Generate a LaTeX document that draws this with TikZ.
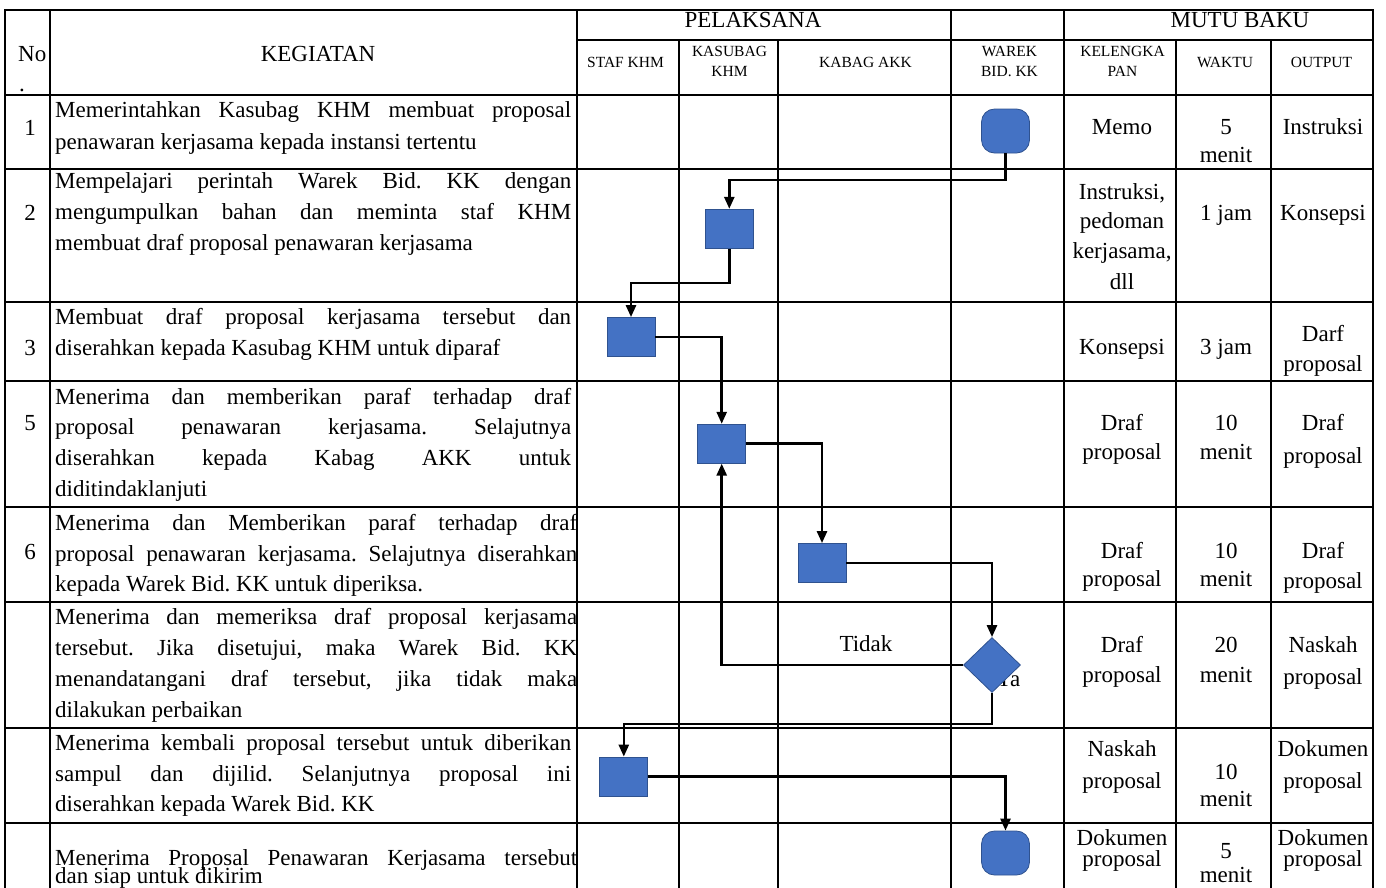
\documentclass[tikz,border=0pt]{standalone}
\usepackage{fontspec}
\setmainfont{Liberation Serif}
\usetikzlibrary{arrows.meta,shapes.geometric}
\definecolor{shapefill}{HTML}{4472C4}
\definecolor{shapeline}{HTML}{2F528F}
\newcommand\kjline[4]{\node[kt] (#1) at (55,#2) {\makebox[#3pt][s]{#4}};}
\newcommand\kfline[3]{\node[kt] (#1) at (55,#2) {#3};}
\newcommand\mycell[4]{\node[ct] (#1) at (#2,#3) {#4};}
\newcommand\myhead[4]{\node[ht] (#1) at (#2,#3) {#4};}
\frenchspacing
\begin{document}
\frenchspacing
\begin{tikzpicture}[x=1pt,y=-1pt,
  tline/.style={line width=2.4pt, line cap=rect},
  conn/.style={line width=2.6pt, -{Triangle[length=12pt,width=10pt]}},
  kt/.style={anchor=base west, inner sep=0pt, font=\fontsize{23}{31}\selectfont\frenchspacing},
  ct/.style={anchor=base, inner sep=0pt, font=\fontsize{23}{31}\selectfont\frenchspacing},
  ht/.style={anchor=base, inner sep=0pt, font=\fontsize{15.5}{20}\selectfont\frenchspacing},
  proc/.style={draw=shapeline, fill=shapefill, line width=0.8pt, minimum width=48pt, minimum height=39pt, inner sep=0pt},
  term/.style={draw=shapeline, fill=shapefill, line width=0.8pt, minimum width=48pt, minimum height=44pt, inner sep=0pt, rounded corners=13pt},
  dec/.style={diamond, draw=shapeline, fill=shapefill, line width=0.8pt, minimum width=57pt, minimum height=55pt, inner sep=0pt}]
\useasboundingbox (0,0) rectangle (1386,887);
% table grid
\draw[tline] (5,10) -- (1373,10);
\draw[tline] (577,40) -- (1373,40);
\foreach \yy in {95,169,302,381,507,602,728,823} {\draw[tline] (5,\yy) -- (1373,\yy);}
\foreach \xx in {5,50,577,951,1064,1373} {\draw[tline] (\xx,10) -- (\xx,887);}
\foreach \xx in {679,778,1176,1271} {\draw[tline] (\xx,40) -- (\xx,887);}
% header
\node[kt] (hno) at (18,61) {No};
\node[kt] (hdot) at (19,91) {.};
\mycell{hkeg}{318}{61}{KEGIATAN}
\mycell{hpel}{753}{27}{PELAKSANA}
\mycell{hmutu}{1240}{27}{MUTU BAKU}
\myhead{hstaf}{625.5}{67}{STAF KHM}
\myhead{hkas1}{729.5}{56}{KASUBAG}
\myhead{hkas2}{729.5}{76}{KHM}
\myhead{hkab}{865.5}{67}{KABAG AKK}
\myhead{hwar1}{1009.5}{56}{WAREK}
\myhead{hwar2}{1009.5}{76}{BID. KK}
\myhead{hkel1}{1122.5}{56}{KELENGKA}
\myhead{hkel2}{1122.5}{76}{PAN}
\myhead{hwak}{1225}{67}{WAKTU}
\myhead{hout}{1321.5}{67}{OUTPUT}
% numbers
\mycell{n1}{30}{135}{1}
\mycell{n2}{30}{220}{2}
\mycell{n3}{30}{355}{3}
\mycell{n5}{30}{430}{5}
\mycell{n6}{30}{559}{6}
% kegiatan
\kjline{k1a}{117}{516}{Memerintahkan Kasubag KHM membuat proposal}
\kfline{k1b}{149}{penawaran kerjasama kepada instansi tertentu}
\kjline{k2a}{188}{516}{Mempelajari perintah Warek Bid. KK dengan}
\kjline{k2b}{219}{516}{mengumpulkan bahan dan meminta staf KHM}
\kfline{k2c}{250}{membuat draf proposal penawaran kerjasama}
\kjline{k3a}{324}{516}{Membuat draf proposal kerjasama tersebut dan}
\kfline{k3b}{355}{diserahkan kepada Kasubag KHM untuk diparaf}
\kjline{k5a}{404}{516}{Menerima dan memberikan paraf terhadap draf}
\kjline{k5b}{434}{516}{proposal penawaran kerjasama. Selajutnya}
\kjline{k5c}{465}{516}{diserahkan kepada Kabag AKK untuk}
\kfline{k5d}{496}{diditindaklanjuti}
\kjline{k6a}{530}{522}{Menerima dan Memberikan paraf terhadap draf}
\kjline{k6b}{561}{522}{proposal penawaran kerjasama. Selajutnya diserahkan}
\kfline{k6c}{591}{kepada Warek Bid. KK untuk diperiksa.}
\kjline{k7a}{624}{522}{Menerima dan memeriksa draf proposal kerjasama}
\kjline{k7b}{655}{522}{tersebut. Jika disetujui, maka Warek Bid. KK}
\kjline{k7c}{686}{522}{menandatangani draf tersebut, jika tidak maka}
\kfline{k7d}{717}{dilakukan perbaikan}
\kjline{k8a}{750}{516}{Menerima kembali proposal tersebut untuk diberikan}
\kjline{k8b}{781}{516}{sampul dan dijilid. Selanjutnya proposal ini}
\kfline{k8c}{811}{diserahkan kepada Warek Bid. KK}
\kjline{k9a}{865}{522}{Menerima Proposal Penawaran Kerjasama tersebut}
\kfline{k9b}{883}{dan siap untuk dikirim}
% mutu baku columns
\mycell{c1a}{1122}{134}{Memo}
\mycell{c1b}{1226}{134}{5}
\mycell{c1c}{1226}{162}{menit}
\mycell{c1d}{1323}{134}{Instruksi}
\mycell{c2a}{1122}{199}{Instruksi,}
\mycell{c2b}{1122}{228}{pedoman}
\mycell{c2c}{1122}{258}{kerjasama,}
\mycell{c2d}{1122}{289}{dll}
\mycell{c2e}{1226}{220}{1 jam}
\mycell{c2f}{1323}{220}{Konsepsi}
\mycell{c3a}{1122}{354}{Konsepsi}
\mycell{c3b}{1226}{354}{3 jam}
\mycell{c3c}{1323}{341}{Darf}
\mycell{c3d}{1323}{371}{proposal}
\mycell{c5a}{1122}{430}{Draf}
\mycell{c5b}{1122}{459}{proposal}
\mycell{c5c}{1226}{430}{10}
\mycell{c5d}{1226}{459}{menit}
\mycell{c5e}{1323}{430}{Draf}
\mycell{c5f}{1323}{463}{proposal}
\mycell{c6a}{1122}{558}{Draf}
\mycell{c6b}{1122}{586}{proposal}
\mycell{c6c}{1226}{558}{10}
\mycell{c6d}{1226}{586}{menit}
\mycell{c6e}{1323}{558}{Draf}
\mycell{c6f}{1323}{588}{proposal}
\mycell{c7a}{1122}{652}{Draf}
\mycell{c7b}{1122}{682}{proposal}
\mycell{c7c}{1226}{652}{20}
\mycell{c7d}{1226}{682}{menit}
\mycell{c7e}{1323}{652}{Naskah}
\mycell{c7f}{1323}{684}{proposal}
\mycell{c8a}{1122}{756}{Naskah}
\mycell{c8b}{1122}{788}{proposal}
\mycell{c8c}{1226}{779}{10}
\mycell{c8d}{1226}{806}{menit}
\mycell{c8e}{1323}{756}{Dokumen}
\mycell{c8f}{1323}{788}{proposal}
\mycell{c9a}{1122}{845}{Dokumen}
\mycell{c9b}{1122}{866}{proposal}
\mycell{c9c}{1226}{858}{5}
\mycell{c9d}{1226}{882}{menit}
\mycell{c9e}{1323}{845}{Dokumen}
\mycell{c9f}{1323}{866}{proposal}
% labels
\mycell{tidak}{866}{651}{Tidak}
\mycell{ya}{1008}{686}{Ya}
% shapes
\node[term] (t1) at (1005.5,131) {};
\node[proc] (b2) at (729.3,228.7) {};
\node[proc] (b3) at (631,337) {};
\node[proc] (b5) at (721.7,443.7) {};
\node[proc] (b6) at (822,563) {};
\node[dec]  (d7) at (992,665) {};
\node[proc] (b8) at (623.8,776.5) {};
\node[term] (t9) at (1005.5,853) {};
% connectors
\draw[conn] (t1.south) -- (t1.south |- 0,180) -| (b2.north);
\draw[conn] (b2.south) -- (b2.south |- 0,283) -| (b3.north);
\draw[conn] (b3.east) -| (b5.north);
\draw[conn] (b5.east) -| (b6.north);
\draw[conn] (b6.east) -| (d7.north);
\draw[conn] (d7.west) -| (b5.south);
\draw[conn] (d7.south) -- (d7.south |- 0,724) -| (b8.north);
\draw[conn] (b8.east) -| (t9.north);
\end{tikzpicture}
\end{document}
